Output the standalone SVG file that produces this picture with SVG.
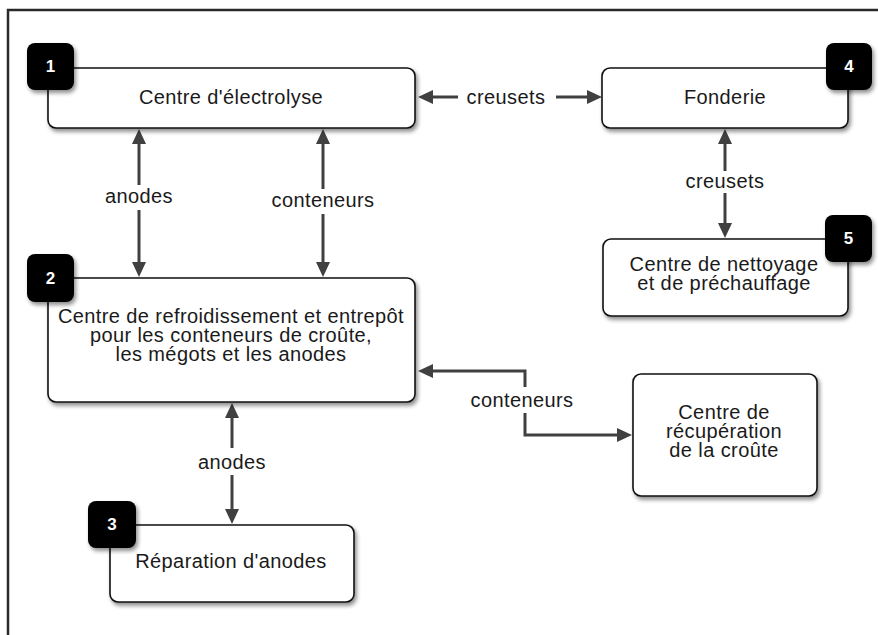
<svg xmlns="http://www.w3.org/2000/svg" width="878" height="635" viewBox="0 0 878 635">
  <style>
    .box { fill: #ffffff; stroke: #111111; stroke-width: 1.6; }
    .badge { fill: #000000; }
    .num { font-family: "Liberation Sans", Arial, sans-serif; font-weight: bold; font-size: 17px; fill: #ffffff; text-anchor: middle; }
    .txt { font-family: "Liberation Sans", Arial, sans-serif; font-size: 20px; letter-spacing: 0.4px; fill: #1a1a1a; text-anchor: middle; }
    .lbl { font-family: "Liberation Sans", Arial, sans-serif; font-size: 20px; letter-spacing: 0.4px; fill: #1a1a1a; text-anchor: middle; }
    .conn { fill: none; stroke: #404040; stroke-width: 3; }
    .frame { fill: none; stroke: #2a2a2a; stroke-width: 2.5; }
  </style>
  <defs>
    <filter id="shadow" x="-10%" y="-10%" width="130%" height="140%">
      <feGaussianBlur in="SourceAlpha" stdDeviation="2"/>
      <feOffset dx="2" dy="3" result="b"/>
      <feComponentTransfer><feFuncA type="linear" slope="0.45"/></feComponentTransfer>
      <feMerge><feMergeNode/><feMergeNode in="SourceGraphic"/></feMerge>
    </filter>
    <marker id="arr" markerUnits="userSpaceOnUse" markerWidth="16" markerHeight="16" viewBox="0 0 16 16" refX="3" refY="7" orient="auto-start-reverse">
      <path d="M0,0 L15,7 L0,14 z" fill="#404040"/>
    </marker>
  </defs>

  <rect width="878" height="635" fill="#ffffff"/>
  <path class="frame" d="M8,640 V10 H880"/>

  <g id="connectors">
    <!-- creusets horizontal -->
    <line class="conn" x1="458" y1="97" x2="430" y2="97" marker-end="url(#arr)"/>
    <line class="conn" x1="556" y1="97" x2="590" y2="97" marker-end="url(#arr)"/>
    <text class="lbl" x="506" y="104">creusets</text>
    <!-- anodes 1-2 -->
    <line class="conn" x1="139" y1="185" x2="139" y2="141" marker-end="url(#arr)"/>
    <line class="conn" x1="139" y1="210" x2="139" y2="265" marker-end="url(#arr)"/>
    <text class="lbl" x="139" y="203">anodes</text>
    <!-- conteneurs 1-2 -->
    <line class="conn" x1="323" y1="189" x2="323" y2="141" marker-end="url(#arr)"/>
    <line class="conn" x1="323" y1="214" x2="323" y2="265" marker-end="url(#arr)"/>
    <text class="lbl" x="323" y="207">conteneurs</text>
    <!-- creusets 4-5 -->
    <line class="conn" x1="725" y1="171" x2="725" y2="141" marker-end="url(#arr)"/>
    <line class="conn" x1="725" y1="193" x2="725" y2="226" marker-end="url(#arr)"/>
    <text class="lbl" x="725" y="188">creusets</text>
    <!-- anodes 2-3 -->
    <line class="conn" x1="232" y1="448" x2="232" y2="415" marker-end="url(#arr)"/>
    <line class="conn" x1="232" y1="475" x2="232" y2="512" marker-end="url(#arr)"/>
    <text class="lbl" x="232" y="469">anodes</text>
    <!-- conteneurs 2-recup -->
    <path class="conn" d="M525,387 V371 H430" marker-end="url(#arr)"/>
    <path class="conn" d="M525,413 V435 H620" marker-end="url(#arr)"/>
    <text class="lbl" x="522" y="407">conteneurs</text>
  </g>

  <g id="node1">
    <rect class="box" x="48" y="68" width="367" height="60" rx="8" filter="url(#shadow)"/>
    <text class="txt" x="231" y="104">Centre d'électrolyse</text>
    <rect class="badge" x="27" y="43" width="47" height="47" rx="8" filter="url(#shadow)"/>
    <text class="num" x="50.5" y="72">1</text>
  </g>

  <g id="node4">
    <rect class="box" x="602" y="68" width="246" height="60" rx="8" filter="url(#shadow)"/>
    <text class="txt" x="725" y="104">Fonderie</text>
    <rect class="badge" x="826" y="43" width="46" height="47" rx="8" filter="url(#shadow)"/>
    <text class="num" x="849" y="72">4</text>
  </g>

  <g id="node5">
    <rect class="box" x="603" y="239" width="245" height="77" rx="8" filter="url(#shadow)"/>
    <text class="txt" x="724" y="271">Centre de nettoyage</text>
    <text class="txt" x="724" y="290">et de préchauffage</text>
    <rect class="badge" x="825" y="215" width="47" height="47" rx="8" filter="url(#shadow)"/>
    <text class="num" x="848.5" y="244">5</text>
  </g>

  <g id="node2">
    <rect class="box" x="48" y="278" width="367" height="124" rx="8" filter="url(#shadow)"/>
    <text class="txt" x="231" y="323">Centre de refroidissement et entrepôt</text>
    <text class="txt" x="231" y="342">pour les conteneurs de croûte,</text>
    <text class="txt" x="231" y="361">les mégots et les anodes</text>
    <rect class="badge" x="27" y="254" width="47" height="48" rx="8" filter="url(#shadow)"/>
    <text class="num" x="50.5" y="284">2</text>
  </g>

  <g id="node6">
    <rect class="box" x="633" y="374" width="184" height="122" rx="8" filter="url(#shadow)"/>
    <text class="txt" x="724" y="419">Centre de</text>
    <text class="txt" x="724" y="438">récupération</text>
    <text class="txt" x="724" y="457">de la croûte</text>
  </g>

  <g id="node3">
    <rect class="box" x="110" y="525" width="244" height="77" rx="8" filter="url(#shadow)"/>
    <text class="txt" x="231" y="568">Réparation d'anodes</text>
    <rect class="badge" x="88" y="501" width="48" height="47" rx="8" filter="url(#shadow)"/>
    <text class="num" x="112" y="530">3</text>
  </g>
</svg>
